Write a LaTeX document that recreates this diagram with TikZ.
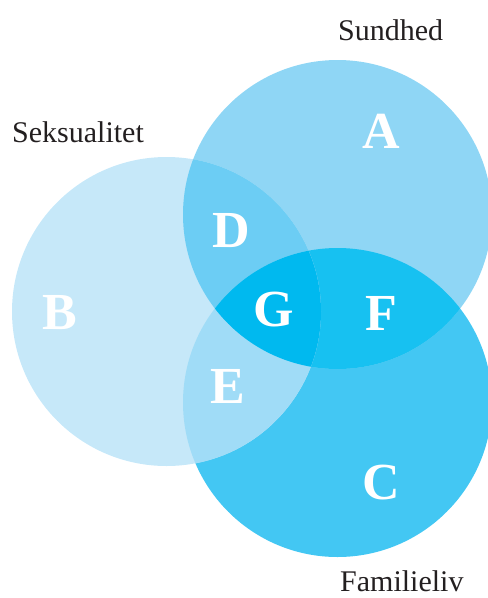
\documentclass[tikz,border=0pt]{standalone}
\usepackage{fontspec}
\setmainfont{Liberation Serif}
\usepackage{tikz}
\usetikzlibrary{positioning}
\definecolor{seksCol}{RGB}{198, 232, 249}
\definecolor{sundCol}{RGB}{143, 214, 245}
\definecolor{famCol}{RGB}{67, 199, 243}
\definecolor{dCol}{RGB}{108, 205, 244}
\definecolor{eCol}{RGB}{160, 220, 247}
\definecolor{fCol}{RGB}{23, 193, 241}
\definecolor{gCol}{RGB}{0, 185, 239}
\definecolor{txtCol}{RGB}{35, 31, 32}
\tikzset{mySetLabel/.style={font=\fontsize{30}{30}\selectfont, text=txtCol, anchor=base west, inner sep=0pt}}
\tikzset{myRegLabel/.style={font=\fontsize{52}{52}\selectfont\bfseries, text=white, inner sep=0pt}}
\newcommand{\rad}{154.5pt}

\begin{document}
\begin{tikzpicture}[x=1pt,y=-1pt]
		\useasboundingbox (0,0) rectangle (488,598);
		\coordinate (sund) at (337.5,214.5);
		\coordinate (seks) at (166.5,311.5);
		\coordinate (fam) at (337.5,402.5);
		% the three sets
		\fill[famCol](fam) circle [radius=\rad];
		\fill[sundCol](sund) circle [radius=\rad];
		\fill[seksCol](seks) circle [radius=\rad];
		% overlaps
		\begin{scope}
			\clip (sund) circle [radius=\rad];
			\fill[fCol](fam) circle [radius=\rad];
		\end{scope}
		\begin{scope}
			\clip (seks) circle [radius=\rad];
			\fill[dCol](sund) circle [radius=\rad];
		\end{scope}
		\begin{scope}
			\clip (seks) circle [radius=\rad];
			\fill[eCol](fam) circle [radius=\rad];
		\end{scope}
		\begin{scope}
			\clip (seks) circle [radius=\rad];
			\clip (sund) circle [radius=\rad];
			\fill[gCol](fam) circle [radius=\rad];
		\end{scope}
		% letters
		\node[myRegLabel] (a) at (381,131) {A};
		\node[myRegLabel] (b) at (60,313) {B};
		\node[myRegLabel] (c) at (381,483) {C};
		\node[myRegLabel] (d) at (231,231) {D};
		\node[myRegLabel] (e) at (228,386) {E};
		\node[myRegLabel] (f) at (381,313) {F};
		\node[myRegLabel] (g) at (274,310) {G};
		% set names
		\node[mySetLabel] (sundName) at (338,40) {Sundhed};
		\node[mySetLabel] (seksName) at (12,142) {Seksualitet};
		\node[mySetLabel] (famName) at (340,591) {Familieliv};
	\end{tikzpicture}
\end{document}
